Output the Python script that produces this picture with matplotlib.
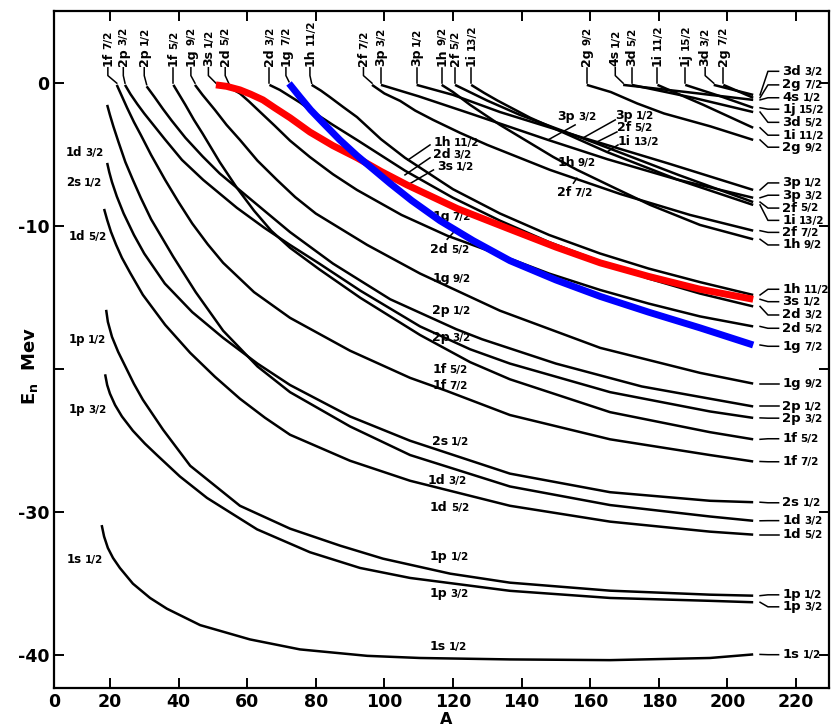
import matplotlib
matplotlib.use("Agg")
import matplotlib.pyplot as plt

plt.rcParams['font.family'] = ['DejaVu Sans']
plt.rcParams['mathtext.fontset'] = 'dejavusans'

# ---------------- data: neutron single-particle levels E (MeV) vs A ----------------
A_1s12 = [17.6, 18.3, 19.4, 20.9, 22.9, 26.7, 31.7, 36.6, 46.3, 60.8, 75.4, 95.0, 110.4, 136.6, 165.8, 194.9, 207.5]
E_1s12 = [-30.9, -31.7, -32.5, -33.2, -33.9, -35.0, -36.0, -36.75, -37.9, -38.9, -39.6, -40.05, -40.2, -40.3, -40.35, -40.2, -39.95]

A_1p32 = [18.6, 19.2, 20.0, 21.5, 23.5, 26.7, 30.2, 33.7, 40.4, 48.3, 62.9, 78.3, 92.9, 107.5, 136.6, 165.8, 194.9, 207.5]
E_1p32 = [-20.35, -21.1, -21.7, -22.5, -23.3, -24.3, -25.2, -26.0, -27.5, -29.0, -31.2, -32.8, -33.9, -34.6, -35.5, -36.0, -36.2, -36.3]

A_1p12 = [18.9, 19.4, 20.6, 22.4, 24.7, 27.0, 29.6, 35.5, 43.4, 57.9, 72.5, 87.1, 99.6, 119.2, 136.6, 165.8, 194.9, 207.5]
E_1p12 = [-15.84, -16.68, -17.73, -18.78, -19.9, -21.02, -22.13, -24.23, -26.75, -29.55, -31.15, -32.34, -33.25, -34.3, -34.93, -35.49, -35.77, -35.84]

A_1d52 = [18.3, 19.2, 20.3, 21.8, 23.5, 25.9, 29.6, 36.1, 43.4, 50.6, 57.9, 65.2, 72.5, 90.0, 107.5, 136.6, 165.8, 194.9, 207.5]
E_1d52 = [-8.78, -9.55, -10.38, -11.29, -12.2, -13.25, -14.79, -16.89, -18.85, -20.52, -22.06, -23.39, -24.58, -26.4, -27.8, -29.55, -30.66, -31.36, -31.57]

A_2s12 = [19.2, 19.8, 20.6, 22.0, 24.0, 27.0, 30.0, 36.0, 44.0, 53.0, 63.0, 72.5, 90.0, 107.5, 136.6, 165.8, 194.9, 207.5]
E_2s12 = [-5.56, -6.2, -6.9, -7.9, -9.1, -10.6, -11.9, -14.0, -16.0, -17.8, -19.6, -21.1, -23.3, -25.0, -27.3, -28.6, -29.2, -29.3]

A_1d32 = [19.2, 20.0, 21.0, 22.5, 24.5, 26.7, 29.0, 32.0, 38.4, 45.0, 53.0, 63.0, 72.5, 90.0, 107.5, 136.6, 165.8, 194.9, 207.5]
E_1d32 = [-1.5, -2.2, -3.0, -4.1, -5.5, -6.75, -8.0, -9.5, -12.1, -14.6, -17.3, -19.8, -21.6, -24.0, -26.0, -28.2, -29.5, -30.3, -30.6]

A_1f72 = [22.0, 23.5, 25.0, 27.0, 29.0, 32.0, 36.1, 40.0, 44.0, 48.5, 53.0, 62.0, 72.5, 90.0, 107.5, 118.0, 136.6, 165.8, 194.9, 207.5]
E_1f72 = [-0.1, -0.9, -1.7, -2.7, -3.6, -5.0, -6.75, -8.3, -9.8, -11.25, -12.55, -14.6, -16.4, -18.7, -20.6, -21.5, -23.2, -24.9, -26.0, -26.45]

A_2p32 = [24.4, 26.0, 28.0, 30.0, 33.0, 36.0, 41.0, 47.2, 57.0, 65.0, 72.5, 81.0, 93.0, 110.4, 125.0, 136.6, 165.8, 194.9, 207.5]
E_2p32 = [-0.1, -0.75, -1.45, -2.1, -3.0, -3.9, -5.35, -6.75, -8.7, -10.1, -11.3, -12.6, -14.5, -17.0, -18.6, -19.6, -21.6, -22.95, -23.4]

A_2p12 = [30.7, 33.0, 35.5, 38.0, 42.0, 47.0, 52.0, 57.0, 63.0, 72.5, 85.0, 101.7, 121.0, 128.5, 150.0, 175.0, 207.5]
E_2p12 = [-0.2, -0.95, -1.8, -2.6, -3.8, -5.1, -6.3, -7.3, -8.5, -10.4, -12.6, -15.1, -17.2, -17.9, -19.6, -21.2, -22.6]

A_1f52 = [38.5, 40.0, 42.0, 44.5, 47.0, 52.0, 57.0, 62.0, 67.0, 72.5, 81.0, 93.0, 110.4, 125.0, 136.6, 165.8, 194.9, 207.5]
E_1f52 = [-0.1, -0.7, -1.5, -2.55, -3.5, -5.5, -7.3, -8.9, -10.3, -11.5, -13.0, -15.0, -17.6, -19.5, -20.7, -23.0, -24.4, -24.9]

A_1g92 = [44.8, 47.0, 50.6, 54.0, 57.9, 63.0, 68.7, 74.0, 80.0, 95.0, 110.4, 133.7, 162.9, 192.0, 207.5]
E_1g92 = [-0.1, -0.8, -1.85, -2.9, -3.95, -5.4, -6.75, -7.95, -9.1, -11.3, -13.3, -15.9, -18.5, -20.25, -21.0]

A_3s12 = [50.9, 54.0, 57.9, 61.0, 64.6, 68.0, 72.5, 78.3, 85.0, 92.0, 99.0, 106.6, 121.2, 136.6, 150.0, 162.9, 177.0, 192.0, 207.5]
E_3s12 = [-0.1, -0.2, -0.45, -0.75, -1.15, -1.7, -2.4, -3.4, -4.35, -5.2, -6.15, -7.1, -8.75, -10.2, -11.45, -12.55, -13.5, -14.4, -15.1]

A_2d52 = [55.0, 57.9, 60.5, 63.8, 68.0, 72.5, 78.3, 85.0, 92.0, 105.0, 118.3, 133.7, 148.0, 162.9, 177.0, 192.0, 207.5]
E_2d52 = [-0.3, -0.7, -1.25, -2.0, -2.95, -4.0, -5.15, -6.35, -7.45, -9.2, -10.65, -12.0, -13.3, -14.45, -15.4, -16.3, -17.0]

A_2d32 = [66.5, 69.5, 72.5, 75.5, 78.3, 85.0, 92.0, 106.0, 120.0, 133.7, 148.0, 162.9, 177.0, 192.0, 207.5]
E_2d32 = [-0.1, -0.45, -0.9, -1.35, -1.85, -2.9, -3.95, -6.1, -8.0, -9.6, -11.1, -12.45, -13.65, -14.7, -15.6]

A_1g72 = [72.2, 75.4, 78.5, 82.1, 87.0, 92.0, 101.7, 108.0, 116.2, 125.9, 136.6, 150.0, 162.9, 177.0, 192.0, 207.5]
E_1g72 = [0.0, -0.95, -1.85, -2.75, -3.95, -5.05, -7.0, -8.2, -9.6, -11.0, -12.4, -13.75, -14.9, -16.0, -17.1, -18.3]

A_1h112 = [78.8, 81.5, 84.1, 88.0, 92.0, 99.0, 106.0, 120.0, 133.7, 148.0, 162.9, 177.0, 192.0, 207.5]
E_1h112 = [-0.1, -0.5, -0.95, -1.65, -2.35, -3.9, -5.2, -7.4, -9.1, -10.6, -11.9, -12.95, -13.9, -14.8]

A_2f72 = [96.4, 100.0, 104.6, 109.0, 114.2, 122.1, 130.0, 148.3, 168.7, 189.1, 207.5]
E_2f72 = [-0.1, -0.7, -1.22, -1.9, -2.55, -3.46, -4.3, -6.05, -7.73, -9.2, -10.3]

A_3p32 = [99.0, 110.0, 125.0, 147.7, 165.0, 185.0, 207.5]
E_3p32 = [-0.1, -0.9, -2.1, -3.95, -5.3, -6.7, -8.0]

A_3p12 = [109.4, 120.0, 133.7, 157.9, 182.8, 207.5]
E_3p12 = [-0.1, -0.8, -2.0, -3.8, -5.6, -7.45]

A_1h92 = [116.7, 120.0, 125.0, 133.7, 149.2, 156.2, 167.0, 177.5, 192.0, 207.5]
E_1h92 = [-0.1, -0.6, -1.5, -2.9, -5.14, -6.05, -7.3, -8.5, -9.9, -10.9]

A_2f52 = [120.6, 130.0, 139.5, 161.4, 185.7, 207.5]
E_2f52 = [-0.1, -1.2, -2.2, -4.16, -6.4, -8.3]

A_1i132 = [125.3, 129.0, 133.0, 142.5, 164.9, 185.7, 207.5]
E_1i132 = [-0.1, -0.65, -1.2, -2.4, -4.8, -6.75, -8.5]

A_2g92 = [159.0, 166.0, 173.7, 181.5, 195.0, 207.5]
E_2g92 = [-0.1, -0.6, -1.4, -2.1, -3.0, -3.95]

A_4s12 = [169.6, 188.0, 207.5]
E_4s12 = [-0.1, -0.6, -1.15]

A_3d52 = [172.1, 190.0, 207.5]
E_3d52 = [-0.1, -1.0, -2.0]

A_1i112 = [179.6, 193.0, 207.5]
E_1i112 = [-0.1, -1.5, -3.1]

A_1j152 = [187.7, 198.0, 207.5]
E_1j152 = [-0.1, -0.9, -1.7]

A_3d32 = [196.0, 207.5]
E_3d32 = [-0.1, -0.8]

A_2g72 = [198.8, 207.5]
E_2g72 = [-0.1, -1.0]

# level name, j label, arrays
levels = {
    "1s12": ("1s", "1/2", A_1s12, E_1s12),
    "1p32": ("1p", "3/2", A_1p32, E_1p32),
    "1p12": ("1p", "1/2", A_1p12, E_1p12),
    "1d52": ("1d", "5/2", A_1d52, E_1d52),
    "2s12": ("2s", "1/2", A_2s12, E_2s12),
    "1d32": ("1d", "3/2", A_1d32, E_1d32),
    "1f72": ("1f", "7/2", A_1f72, E_1f72),
    "2p32": ("2p", "3/2", A_2p32, E_2p32),
    "2p12": ("2p", "1/2", A_2p12, E_2p12),
    "1f52": ("1f", "5/2", A_1f52, E_1f52),
    "1g92": ("1g", "9/2", A_1g92, E_1g92),
    "3s12": ("3s", "1/2", A_3s12, E_3s12),
    "2d52": ("2d", "5/2", A_2d52, E_2d52),
    "2d32": ("2d", "3/2", A_2d32, E_2d32),
    "1g72": ("1g", "7/2", A_1g72, E_1g72),
    "1h112": ("1h", "11/2", A_1h112, E_1h112),
    "2f72": ("2f", "7/2", A_2f72, E_2f72),
    "3p32": ("3p", "3/2", A_3p32, E_3p32),
    "3p12": ("3p", "1/2", A_3p12, E_3p12),
    "1h92": ("1h", "9/2", A_1h92, E_1h92),
    "2f52": ("2f", "5/2", A_2f52, E_2f52),
    "1i132": ("1i", "13/2", A_1i132, E_1i132),
    "2g92": ("2g", "9/2", A_2g92, E_2g92),
    "4s12": ("4s", "1/2", A_4s12, E_4s12),
    "3d52": ("3d", "5/2", A_3d52, E_3d52),
    "1i112": ("1i", "11/2", A_1i112, E_1i112),
    "1j152": ("1j", "15/2", A_1j152, E_1j152),
    "3d32": ("3d", "3/2", A_3d32, E_3d32),
    "2g72": ("2g", "7/2", A_2g72, E_2g72),
}
highlight = {"3s12": "#ff0000", "1g72": "#0000ff"}

x_ticks = [20, 40, 60, 80, 100, 120, 140, 160, 180, 200, 220]
y_ticks = [0, -10, -20, -30, -40]
y_ticklabels = ["0", "-10", "", "-30", "-40"]

# label placements (layout)
top_labels = [("1f72", 19.4), ("2p32", 23.9), ("2p12", 30.0), ("1f52", 38.5), ("1g92", 43.6),
              ("3s12", 48.7), ("2d52", 53.6), ("2d32", 66.5), ("1g72", 71.3), ("1h112", 78.3),
              ("2f72", 93.9), ("3p32", 99.0), ("3p12", 109.4), ("1h92", 116.7), ("2f52", 120.6),
              ("1i132", 125.3), ("2g92", 159.0), ("4s12", 167.3), ("3d52", 172.1), ("1i112", 179.6),
              ("1j152", 187.7), ("3d32", 193.5), ("2g72", 198.8)]
right_labels = [("3d32", 0.85), ("2g72", -0.1), ("4s12", -1.0), ("1j152", -1.8), ("3d52", -2.72),
                ("1i112", -3.62), ("2g92", -4.46), ("3p12", -6.96), ("3p32", -7.82), ("2f52", -8.72),
                ("1i132", -9.58), ("2f72", -10.42), ("1h92", -11.3), ("1h112", -14.4), ("3s12", -15.27),
                ("2d32", -16.2), ("2d52", -17.13), ("1g72", -18.39), ("1g92", -21.0), ("2p12", -22.6),
                ("2p32", -23.42), ("1f52", -24.86), ("1f72", -26.47), ("2s12", -29.34), ("1d32", -30.59),
                ("1d52", -31.57), ("1p12", -35.78), ("1p32", -36.62), ("1s12", -39.97)]
mid_labels = [("1h112", 114.2, -4.16), ("2d32", 114.2, -5.0), ("3s12", 115.4, -5.84),
              ("1g72", 113.9, -9.34), ("2d52", 113.3, -11.64), ("1g92", 113.9, -13.67),
              ("2p12", 113.9, -15.91), ("2p32", 113.9, -17.8), ("1f52", 113.9, -20.03),
              ("1f72", 113.9, -21.15), ("2s12", 113.9, -25.07), ("1d32", 112.7, -27.8),
              ("1d52", 113.3, -29.69), ("1p12", 113.3, -33.11), ("1p32", 113.3, -35.7),
              ("1s12", 113.3, -39.4), ("3p32", 150.4, -2.34), ("3p12", 167.3, -2.27),
              ("2f52", 167.8, -3.11), ("1i132", 168.1, -4.09), ("1h92", 150.4, -5.56),
              ("2f72", 150.4, -7.66)]
mid_leaders = [((113.3, -4.3), (106.9, -5.35)), ((113.3, -5.2), (106.0, -6.4)),
               ((114.3, -6.05), (107.5, -7.0)), ((118.3, -10.9), (120.6, -10.3)),
               ((155.6, -2.9), (147.7, -3.95)), ((167.3, -2.55), (157.9, -3.81)),
               ((167.8, -3.39), (161.4, -4.16)), ((168.1, -4.3), (164.9, -4.79)),
               ((155.1, -6.98), (156.1, -6.63))]
left_labels = [("1d32", 7.2, -4.86), ("2s12", 7.2, -6.96), ("1d52", 8.0, -10.73),
               ("1p12", 8.0, -17.94), ("1p32", 8.0, -22.83), ("1s12", 7.5, -33.3)]

# ---------------- figure ----------------
fig = plt.figure(figsize=(8.32, 7.28), dpi=100)
ax = fig.add_axes([54 / 832, 1 - 688 / 728, (829 - 54) / 832, (688 - 11) / 728])
ax.set_xlim(3.7, 229.6)
ax.set_ylim(-42.3, 5.07)


def level_text(x, y, main, frac, size, fsize, rot=0, gap=2.2, **kw):
    if rot == 0:
        t = ax.text(x, y, main, fontsize=size, fontweight='bold', ha='left', va='center', **kw)
        ax.annotate(frac, xy=(1, 0), xycoords=t, xytext=(gap, 0.8), textcoords='offset points',
                    fontsize=fsize, fontweight='bold', ha='left', va='bottom', **kw)
    else:
        t = ax.text(x, y, main, fontsize=size, fontweight='bold', ha='center', va='bottom',
                    rotation=90, **kw)
        ax.annotate(frac, xy=(1, 1), xycoords=t, xytext=(-0.8, gap), textcoords='offset points',
                    fontsize=fsize, fontweight='bold', ha='right', va='bottom', rotation=90, **kw)
    return t


for key, (nm, fr, A, E) in levels.items():
    if key in highlight:
        ax.plot(A, E, color=highlight[key], lw=5.0, zorder=4, solid_capstyle='butt',
                solid_joinstyle='round')
    else:
        ax.plot(A, E, color='black', lw=1.8, zorder=3, solid_capstyle='butt',
                solid_joinstyle='round')

lw_lead = 1.1
# top labels with leaders
for key, xt in top_labels:
    nm, fr, A, E = levels[key]
    level_text(xt, 1.25, nm, fr, 9, 7.5, rot=90, gap=1.8)
    ax.plot([xt, xt, A[0]], [1.1, 0.55, E[0] + 0.12], color='black', lw=lw_lead, zorder=3)

# right labels with leaders
for key, yl in right_labels:
    nm, fr, A, E = levels[key]
    ax.plot([A[-1] + 2.0, A[-1] + 4.3, A[-1] + 7.4], [E[-1], yl, yl], color='black', lw=lw_lead)
    level_text(216.0, yl, nm, fr, 9.5, 7.5)

for key, xl, yl in mid_labels:
    nm, fr, A, E = levels[key]
    level_text(xl, yl, nm, fr, 9, 7.5)
for (p0, p1) in mid_leaders:
    ax.plot([p0[0], p1[0]], [p0[1], p1[1]], color='black', lw=lw_lead)

for key, xl, yl in left_labels:
    nm, fr, A, E = levels[key]
    level_text(xl, yl, nm, fr, 8.5, 7.5)

# axes styling
for s in ax.spines.values():
    s.set_linewidth(1.6)
ax.set_xticks(x_ticks)
ax.set_xticklabels([str(v) for v in x_ticks])
ax.set_yticks(y_ticks)
ax.set_yticklabels(y_ticklabels)
ax.tick_params(direction='in', length=7, width=1.4, top=True, right=True, labelsize=12.5, pad=3.5)
for lab in ax.get_xticklabels() + ax.get_yticklabels():
    lab.set_fontweight('bold')
ax.annotate('0', xy=(0, 0), xycoords='axes fraction', xytext=(0, -3.5), textcoords='offset points',
            ha='center', va='top', fontsize=12.5, fontweight='bold')
ax.text(0.506, -0.0532, 'A', transform=ax.transAxes, ha='center', va='baseline',
        fontsize=11.5, fontweight='bold')
ax.text(-0.031, 0.476, r'$\mathbf{E_n}$  Mev', transform=ax.transAxes, rotation=90,
        ha='center', va='center', fontsize=13, fontweight='bold')

fig.savefig('out.png', dpi=100)
